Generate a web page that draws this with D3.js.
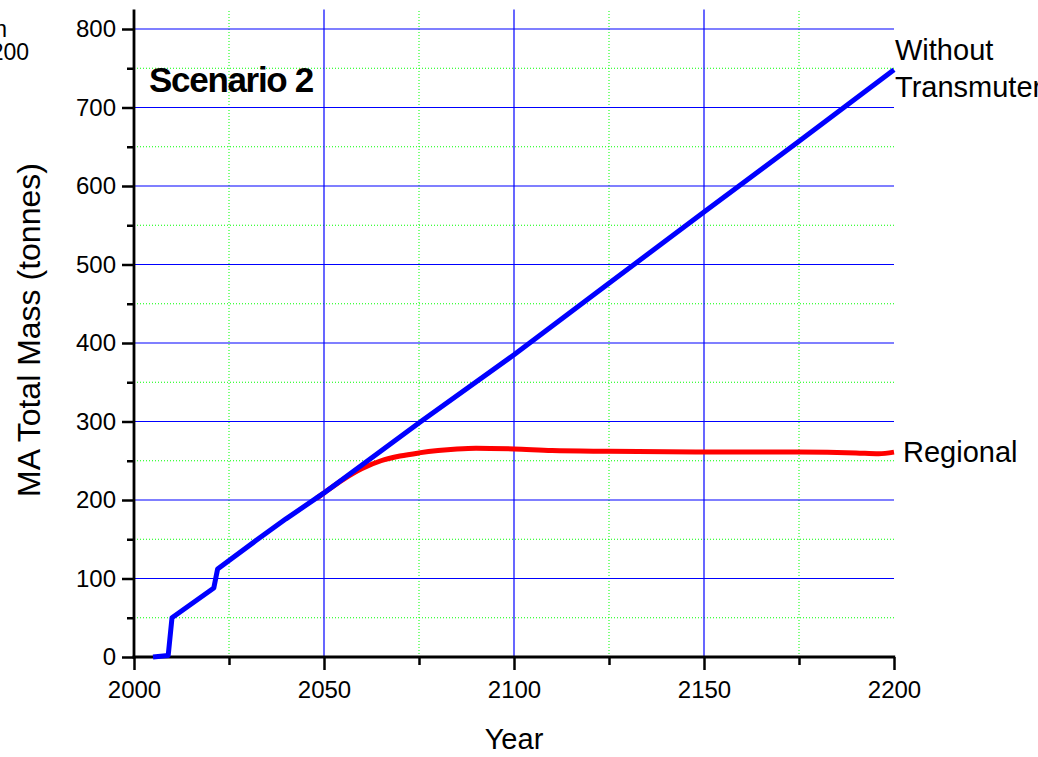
<!DOCTYPE html>
<html><head><meta charset="utf-8">
<script src="https://cdn.jsdelivr.net/npm/d3@7"></script>
<style>
html,body{margin:0;padding:0;background:#fff;}
svg{display:block;font-family:"Liberation Sans",Arial,sans-serif;}
</style></head>
<body>
<svg id="chart" width="1038" height="757"></svg>
<script>
// ---- data ----
const blueYears  = [2005, 2009, 2010, 2021, 2022, 2032, 2040, 2050, 2075.5, 2100, 2125, 2150, 2175, 2200];
const blueValues = [0,    2,    50,   88,   112,  148,  176,  209,  300,    385,  476,  567,  657,  748];
const redYears   = [2048, 2050, 2055, 2060, 2065, 2070, 2075, 2080, 2085, 2090, 2100, 2110, 2125, 2150, 2175, 2190, 2196, 2200];
const redValues  = [202,  209,  226,  240,  250,  256,  260,  263,  265,  266,  265,  263,  262,  261,  261,  260,  259,  261];
const xMajorTicks = [2000, 2050, 2100, 2150, 2200];
const xMinorTicks = [2025, 2075, 2125, 2175];
const yMajorTicks = [0, 100, 200, 300, 400, 500, 600, 700, 800];
const yMinorTicks = [50, 150, 250, 350, 450, 550, 650, 750];
const seriesLabels = ["Without", "Transmuter", "Regional"];

const svg = d3.select("#chart");
const x = d3.scaleLinear().domain([2000, 2200]).range([134, 894]);
const y = d3.scaleLinear().domain([0, 800]).range([657, 29]);
const yTop = y(825);

// stray partial text at top-left (cut off at the edge in the reference)
svg.append("text").attr("x", 7).attr("y", 37).attr("text-anchor", "end")
  .attr("font-size", 23).text("n");
svg.append("text").attr("x", 29).attr("y", 60).attr("text-anchor", "end")
  .attr("font-size", 23).text("200");

// grid
const g = svg.append("g");
g.selectAll(".hmin").data(yMinorTicks).join("line")
  .attr("x1", x(2000)).attr("x2", x(2200)).attr("y1", d => y(d)).attr("y2", d => y(d))
  .attr("stroke", "#00ff00").attr("stroke-width", 1).attr("stroke-dasharray", "1,2");
g.selectAll(".vmin").data(xMinorTicks).join("line")
  .attr("x1", d => x(d)).attr("x2", d => x(d)).attr("y1", y(0)).attr("y2", yTop)
  .attr("stroke", "#00ff00").attr("stroke-width", 1).attr("stroke-dasharray", "1,2");
g.selectAll(".hmaj").data(yMajorTicks.filter(d => d > 0)).join("line")
  .attr("x1", x(2000)).attr("x2", x(2200)).attr("y1", d => y(d)).attr("y2", d => y(d))
  .attr("stroke", "#0000ff").attr("stroke-width", 1.2);
g.selectAll(".vmaj").data(xMajorTicks.filter(d => d > 2000 && d < 2200)).join("line")
  .attr("x1", d => x(d)).attr("x2", d => x(d)).attr("y1", y(0)).attr("y2", yTop)
  .attr("stroke", "#0000ff").attr("stroke-width", 1.2);

// axes
const yAxis = d3.axisLeft(y).tickValues(yMajorTicks).tickSize(12).tickPadding(6).tickFormat(d3.format("d"));
const yAxisMinor = d3.axisLeft(y).tickValues(yMinorTicks).tickSize(7).tickFormat("");
const xAxis = d3.axisBottom(x).tickValues(xMajorTicks).tickSize(13).tickPadding(11).tickFormat(d3.format("d"));
const xAxisMinor = d3.axisBottom(x).tickValues(xMinorTicks).tickSize(8).tickFormat("");

function styleAxis(sel) {
  sel.select(".domain").remove();
  sel.selectAll(".tick line").attr("stroke", "#000").attr("stroke-width", 2.5);
  sel.selectAll(".tick text").attr("font-size", 24).attr("fill", "#000")
     .attr("font-family", "'Liberation Sans', Arial, sans-serif");
}
svg.append("g").attr("transform", `translate(${x(2000)},0)`).call(yAxis).call(styleAxis);
svg.append("g").attr("transform", `translate(${x(2000)},0)`).call(yAxisMinor).call(styleAxis);
svg.append("g").attr("transform", `translate(0,${y(0)})`).call(xAxis).call(styleAxis);
svg.append("g").attr("transform", `translate(0,${y(0)})`).call(xAxisMinor).call(styleAxis);

svg.append("line").attr("x1", x(2000)).attr("x2", x(2000)).attr("y1", yTop).attr("y2", y(0) + 1.5)
  .attr("stroke", "#000").attr("stroke-width", 2.8);
svg.append("line").attr("x1", x(2000) - 1.4).attr("x2", x(2200) + 1.2).attr("y1", y(0)).attr("y2", y(0))
  .attr("stroke", "#000").attr("stroke-width", 2.8);

// lines
svg.append("path").datum(d3.zip(redYears, redValues))
  .attr("d", d3.line().x(d => x(d[0])).y(d => y(d[1])).curve(d3.curveMonotoneX))
  .attr("fill", "none").attr("stroke", "#ff0000").attr("stroke-width", 5).attr("stroke-linejoin", "round");
svg.append("path").datum(d3.zip(blueYears, blueValues))
  .attr("d", d3.line().x(d => x(d[0])).y(d => y(d[1])))
  .attr("fill", "none").attr("stroke", "#0000ff").attr("stroke-width", 5).attr("stroke-linejoin", "round");

// texts
svg.append("text").attr("x", 149).attr("y", 92).attr("font-size", 35).attr("font-weight", "bold")
  .attr("letter-spacing", -1.3).text("Scenario 2");
svg.append("text").attr("x", 895).attr("y", 60).attr("font-size", 29).text(seriesLabels[0]);
svg.append("text").attr("x", 895).attr("y", 97).attr("font-size", 29).text(seriesLabels[1]);
svg.append("text").attr("x", 903).attr("y", 462).attr("font-size", 29).text(seriesLabels[2]);
svg.append("text").attr("x", x(2100)).attr("y", 749).attr("text-anchor", "middle")
  .attr("font-size", 29).text("Year");
svg.append("text").attr("transform", "translate(40,330) rotate(-90)").attr("text-anchor", "middle")
  .attr("font-size", 32).text("MA Total Mass (tonnes)");
</script>
</body></html>
